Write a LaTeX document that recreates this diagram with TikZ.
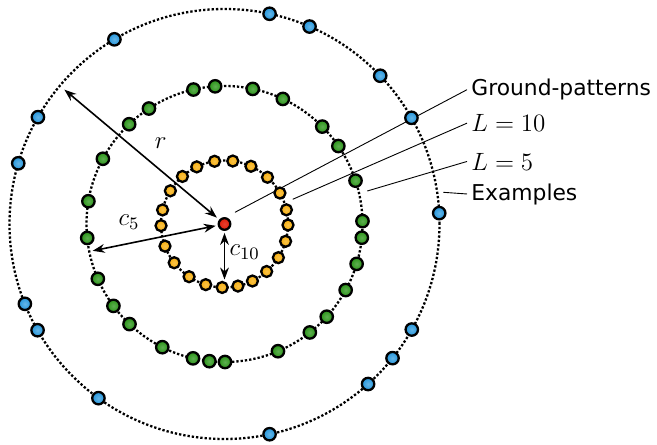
\RequirePackage{fix-cm}
\documentclass[tikz,border=0pt]{standalone}
\usepackage{fontspec}
\newfontfamily\labelfont{DejaVu Sans}
\usetikzlibrary{arrows.meta}
\definecolor{dotorange}{HTML}{F7AE0C}
\definecolor{dotgreen}{HTML}{2A9418}
\definecolor{dotblue}{HTML}{2496DC}
\definecolor{dotred}{HTML}{E01E0A}
\begin{document}
\begin{tikzpicture}[
    x=0.5pt, y=0.5pt,
    ring/.style={draw, line width=1.15pt, dash pattern=on 1.15pt off 1pt},
    leader/.style={draw, line width=0.45pt},
    dim/.style={{Stealth[length=6pt,width=4.4pt]}-{Stealth[length=6pt,width=4.4pt]}, line width=0.8pt},
    patdot/.style={circle, draw, line width=1.15pt, inner sep=0pt, minimum size=6.2pt},
    orangedot/.style={patdot, minimum size=5.5pt, inner color=dotorange!75!white, outer color=dotorange},
    greendot/.style={patdot, inner color=dotgreen!75!white, outer color=dotgreen},
    bluedot/.style={patdot, inner color=dotblue!70!white, outer color=dotblue},
    reddot/.style={patdot, minimum size=5.8pt, inner color=dotred!85!white, outer color=dotred},
    tagtext/.style={anchor=base west, inner sep=2pt, font=\labelfont\fontsize{10.9}{13}\selectfont},
    mathtext/.style={inner sep=0pt, font=\fontsize{12.5}{15}\selectfont},
]
\useasboundingbox (-224.5,-220) rectangle (432.5,224);
\draw[ring] (0,0) circle[radius=107.5pt];
\draw[ring] (0,0) circle[radius=69pt];
\draw[ring] (0,0) circle[radius=31.75pt];
\node[tagtext] (gptext) at (242.5,128.3) {Ground-patterns};
\node[tagtext, font=\fontsize{12.5}{15}\selectfont] (l10text) at (242.5,92.3) {$L=10$};
\node[tagtext, font=\fontsize{12.5}{15}\selectfont] (l5text) at (242.5,54) {$L=5$};
\node[tagtext] (extext) at (242.5,24) {Examples};
\coordinate (gpstart) at (10.5,11.7);
\coordinate (l10start) at (68.2,24.7);
\coordinate (l5start) at (142.8,33);
\coordinate (exstart) at (218.8,31.7);
\draw[leader] (gpstart) -- (gptext.west);
\draw[leader] (l10start) -- (l10text.west);
\draw[leader] (l5start) -- (l5text.west);
\draw[leader] (exstart) -- (extext.west);
\foreach \a [count=\i] in {99,82.5,65.4,47.4,29.2,12.9,-0.9,-15.8,-32,-48.4,-63.9,-77.8,-92.1,-107.2,-123.9,-142.4,-159.6,-178.5,167.2,148.5,131.5,115.9}
    \node[orangedot] (o\i) at (\a:63.5) {};
\foreach \a [count=\i] in {103,93.9,78.2,65,44.9,34.4,18.3,1.2,-5.7,-16.8,-28.6,-42.2,-51.8,-67.2,-89.8,-96.3,-103.2,-116.8,-133.5,-143.6,-156.6,-174.2,170.5,151.8,133.7,123.2}
    \node[greendot] (g\i) at (\a:138) {};
\foreach \a [count=\i] in {77.9,66.7,43.6,29.6,2.9,-29.4,-38.6,-48.1,-77.9,-125.9,-150.4,-158.2,163.6,150.2,120.8}
    \node[bluedot] (b\i) at (\a:215) {};
\node[reddot] (ground) at (0,0) {};
\coordinate (rend) at (140:209);
\coordinate (c5end) at (191.5:134.5);
\coordinate (c10end) at (-90:55.5);
\draw[dim, shorten >=1.5pt] (rend) -- (ground);
\draw[dim, shorten >=1pt] (c5end) -- (ground);
\draw[dim, shorten <=1pt] (ground) -- (c10end);
\node[mathtext] (rtext) at (-63.8,81) {$r$};
\node[mathtext] (c5text) at (-95.5,2) {$c_5$};
\node[mathtext] (c10text) at (20.2,-28) {$c_{10}$};
\end{tikzpicture}
\end{document}
